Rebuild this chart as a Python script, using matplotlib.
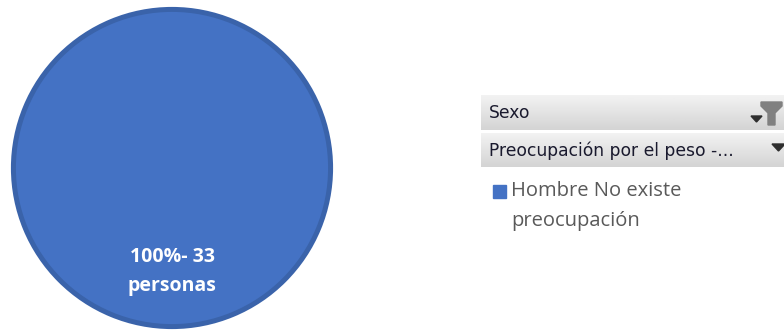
import numpy as np
import matplotlib
matplotlib.use("Agg")
import matplotlib.pyplot as plt
from matplotlib.patches import Rectangle, Polygon

# datos del gráfico
categorias = ["Hombre No existe\npreocupación"]
personas = [33]
filtros = ["Sexo", "Preocupación por el peso -..."]
colores = ["#4472C4"]

W, H = 784, 331
fig = plt.figure(figsize=(W / 100, H / 100), dpi=100)

# pastel (un solo sector)
cx, cy, r = 172, 168, 161
ax = fig.add_axes([(cx - r) / W, (H - cy - r) / H, 2 * r / W, 2 * r / H])
ax.pie(personas, colors=colores, startangle=90, radius=0.985,
       wedgeprops=dict(edgecolor="#3A63AA", linewidth=3.6),
       autopct=lambda p: f"{p:.0f}%- {round(p * sum(personas) / 100)}\npersonas",
       pctdistance=0.65,
       textprops=dict(color="white", fontsize=14, fontweight="bold",
                      family="Open Sans", linespacing=1.6))
ax.set_xlim(-1, 1)
ax.set_ylim(-1, 1)
ax.axis("off")

# panel de filtros y leyenda en coordenadas de pixel
pan = fig.add_axes([0, 0, 1, 1])
pan.set_xlim(0, W)
pan.set_ylim(H, 0)
pan.axis("off")

grad = np.linspace(0.95, 0.83, 50).reshape(-1, 1)
barras = [(95, 130), (133, 167)]
for (y0, y1), txt in zip(barras, filtros):
    pan.imshow(grad, cmap="gray", vmin=0, vmax=1, aspect="auto",
               extent=(481, 784, y1, y0), zorder=1)
    pan.text(489, (y0 + y1) / 2 + 1, txt, fontsize=12.3, family="DejaVu Sans",
             color="#1A1A2E", va="center", ha="left", zorder=2)

# icono de filtro y flechas
pan.add_patch(Polygon([[761, 102], [782, 102], [782, 106], [775, 113], [775, 125],
                       [768, 125], [768, 113], [761, 106]], closed=True,
                      color="#808080", zorder=3))
pan.add_patch(Polygon([[751, 116], [762, 116], [756.5, 122]], closed=True,
                      color="#2E2E2E", zorder=3))
pan.add_patch(Polygon([[772, 144], [785, 144], [778.5, 151]], closed=True,
                      color="#2E2E2E", zorder=3))

# leyenda
for i, (cat, col) in enumerate(zip(categorias, colores)):
    pan.add_patch(Rectangle((493, 185), 13, 13, color=col, zorder=3))
    pan.text(511, 181, cat, fontsize=14.5, family="Open Sans", color="#595959",
             va="top", ha="left", linespacing=1.65)

fig.savefig("out.png", dpi=100)
